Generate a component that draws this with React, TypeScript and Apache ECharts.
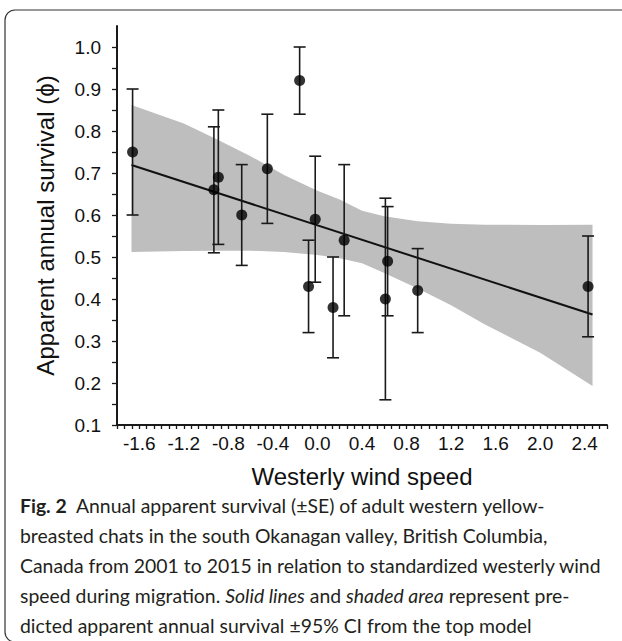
import React, { useEffect, useRef } from "react";
import * as echarts from "echarts";

// ---- Data ----
const windSpeed = [-1.66, -0.93, -0.89, -0.68, -0.45, -0.16, -0.02, -0.08, 0.14, 0.24, 0.61, 0.63, 0.9, 2.43];
const survival = [0.75, 0.66, 0.69, 0.6, 0.71, 0.92, 0.59, 0.43, 0.38, 0.54, 0.4, 0.49, 0.42, 0.43];
const seLow = [0.6, 0.51, 0.53, 0.48, 0.58, 0.84, 0.44, 0.32, 0.26, 0.36, 0.16, 0.36, 0.32, 0.31];
const seHigh = [0.9, 0.81, 0.85, 0.72, 0.84, 1.0, 0.74, 0.54, 0.5, 0.72, 0.64, 0.62, 0.52, 0.55];

const fitX = [-1.67, 2.47];
const fitY = [0.719, 0.363];

const bandX = [-1.67, -1.2, -0.9, -0.6, -0.3, 0.0, 0.2, 0.4, 0.6, 0.9, 1.2, 1.5, 2.0, 2.47];
const bandUpper = [0.862, 0.818, 0.78, 0.74, 0.695, 0.658, 0.637, 0.61, 0.597, 0.585, 0.579, 0.577, 0.576, 0.577];
const bandLower = [0.512, 0.514, 0.515, 0.515, 0.512, 0.505, 0.497, 0.485, 0.462, 0.425, 0.385, 0.34, 0.272, 0.193];

const xLabels = [-1.6, -1.2, -0.8, -0.4, 0.0, 0.4, 0.8, 1.2, 1.6, 2.0, 2.4];
const yLabels = [0.1, 0.2, 0.3, 0.4, 0.5, 0.6, 0.7, 0.8, 0.9, 1.0];

const xTitle = "Westerly wind speed";
const yTitle = "Apparent annual survival (\u03D5)";

const captionLines = [
  "{b|Fig. 2}  Annual apparent survival (\u00B1SE) of adult western yellow-",
  "breasted chats in the south Okanagan valley, British Columbia,",
  "Canada from 2001 to 2015 in relation to standardized westerly wind",
  "speed during migration. {i|Solid lines} and {i|shaded area} represent pre-",
  "dicted apparent annual survival \u00B195% CI from the top model",
];

// minor ticks: x every 0.4/6 from -1.8, y every 0.05 from 0.1
const xTicks: number[] = [];
for (let k = 0; k <= 66; k++) xTicks.push(Math.round((-1.8 + (k * 0.4) / 6) * 10000) / 10000);
const yTicks: number[] = [];
for (let k = 0; k <= 18; k++) yTicks.push(Math.round((0.1 + k * 0.05) * 1000) / 1000);

export default function App() {
  const ref = useRef<HTMLDivElement>(null);
  useEffect(() => {
    document.body.style.margin = "0";
    const chart = echarts.init(ref.current!, null, { renderer: "svg" });
    const font = "Liberation Sans, Arial, sans-serif";
    const capFont = "Lato, sans-serif";
    const axisColor = "#1a1a1a";
    const capSize = 19.4;

    const option: any = {
      animation: false,
      backgroundColor: "#ffffff",
      grid: { left: 117, top: 26, width: 490, height: 399, containLabel: false },
      xAxis: {
        type: "value",
        min: -1.8,
        max: 2.6,
        name: xTitle,
        nameLocation: "middle",
        nameGap: 39,
        nameTextStyle: { fontSize: 24, fontFamily: font, color: "#111" },
        axisLine: { show: true, onZero: false, lineStyle: { color: axisColor, width: 2 } },
        axisTick: { show: true, inside: false, length: 4, customValues: xTicks, lineStyle: { color: axisColor, width: 1.3 } },
        axisLabel: {
          customValues: xLabels,
          formatter: (v: number) => v.toFixed(1),
          fontSize: 19,
          fontFamily: font,
          color: "#111",
          margin: 9,
        },
        splitLine: { show: false },
      },
      yAxis: {
        type: "value",
        min: 0.1,
        max: 1.05,
        name: yTitle,
        nameLocation: "middle",
        nameGap: 60,
        nameTextStyle: { fontSize: 24, fontFamily: font, color: "#111" },
        axisLine: { show: true, onZero: false, lineStyle: { color: axisColor, width: 2 } },
        axisTick: { show: true, inside: false, length: 5, customValues: yTicks, lineStyle: { color: axisColor, width: 1.3 } },
        axisLabel: {
          customValues: yLabels,
          formatter: (v: number) => v.toFixed(1),
          fontSize: 19,
          fontFamily: font,
          color: "#111",
          margin: 16,
        },
        splitLine: { show: false },
      },
      series: [
        {
          type: "custom",
          name: "band",
          data: bandX.map((x, i) => [x, bandLower[i], bandUpper[i]]),
          encode: { x: 0, y: [1, 2] },
          z: 1,
          renderItem: (params: any, api: any) => {
            if (params.dataIndex !== 0) return null;
            const pts: number[][] = [];
            for (let i = 0; i < bandX.length; i++) pts.push(api.coord([bandX[i], bandUpper[i]]));
            for (let i = bandX.length - 1; i >= 0; i--) pts.push(api.coord([bandX[i], bandLower[i]]));
            return { type: "polygon", shape: { points: pts }, style: { fill: "#bebebe" } };
          },
        },
        {
          type: "line",
          name: "fit",
          data: fitX.map((x, i) => [x, fitY[i]]),
          showSymbol: false,
          lineStyle: { color: "#111", width: 2 },
          z: 2,
        },
        {
          type: "custom",
          name: "se",
          data: windSpeed.map((x, i) => [x, seLow[i], seHigh[i]]),
          encode: { x: 0, y: [1, 2] },
          z: 3,
          renderItem: (params: any, api: any) => {
            const x = api.value(0);
            const lo = api.coord([x, api.value(1)]);
            const hi = api.coord([x, api.value(2)]);
            const cap = 6;
            const st = { stroke: "#1a1a1a", lineWidth: 1.6 };
            return {
              type: "group",
              children: [
                { type: "line", shape: { x1: lo[0], y1: lo[1], x2: hi[0], y2: hi[1] }, style: st },
                { type: "line", shape: { x1: hi[0] - cap, y1: hi[1], x2: hi[0] + cap, y2: hi[1] }, style: st },
                { type: "line", shape: { x1: lo[0] - cap, y1: lo[1], x2: lo[0] + cap, y2: lo[1] }, style: st },
              ],
            };
          },
        },
        {
          type: "scatter",
          name: "survival",
          data: windSpeed.map((x, i) => [x, survival[i]]),
          symbol: "circle",
          symbolSize: 11,
          itemStyle: { color: "#000" },
          z: 4,
        },
      ],
      graphic: [
        {
          type: "rect",
          shape: { x: 5, y: 10, width: 700, height: 632, r: 10 },
          style: { fill: "none", stroke: "#333", lineWidth: 1.2 },
          silent: true,
        },
        ...captionLines.map((t, i) => ({
          type: "text",
          x: 20,
          y: 505 + i * 30.2,
          style: {
            text: t,
            fontSize: capSize,
            fontFamily: capFont,
            fill: "#231f20",
            verticalAlign: "middle",
            rich: {
              b: { fontWeight: "bold", fontSize: capSize, fontFamily: capFont, fill: "#231f20" },
              i: { fontStyle: "italic", fontSize: capSize, fontFamily: capFont, fill: "#231f20" },
            },
          },
          silent: true,
        })),
      ],
    };
    chart.setOption(option);
    return () => chart.dispose();
  }, []);
  return <div ref={ref} style={{ width: 622, height: 641 }} />;
}
